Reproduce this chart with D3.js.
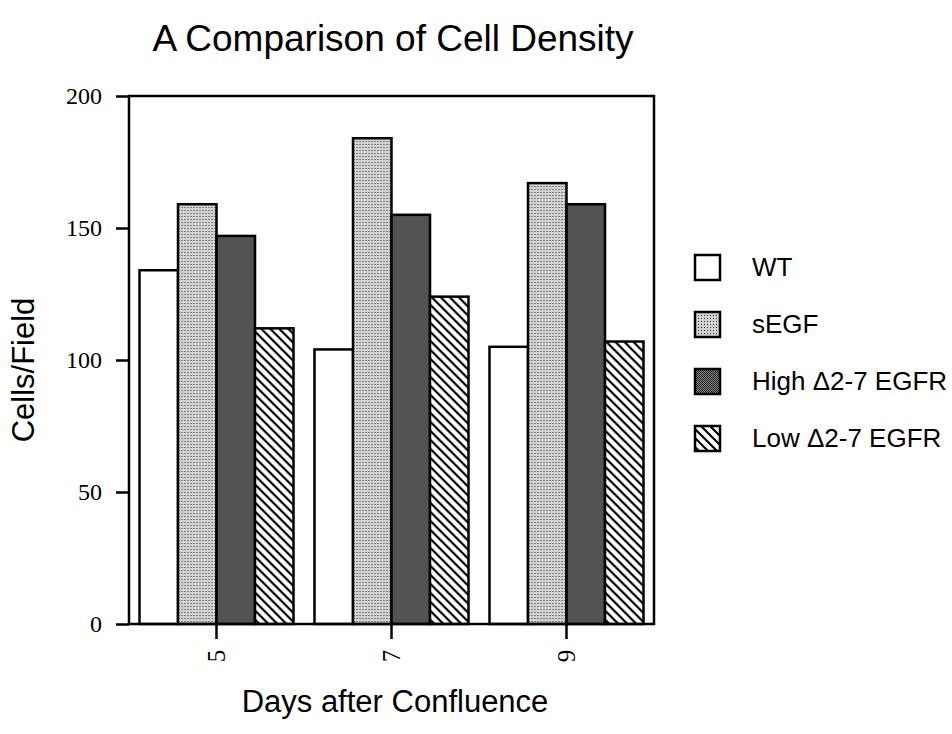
<!DOCTYPE html>
<html>
<head>
<meta charset="utf-8">
<script src="https://cdn.jsdelivr.net/npm/d3@7"></script>
<style>
  body { margin: 0; background: #fff; }
  svg { display: block; }
</style>
</head>
<body>
<div id="chart"></div>
<script>
// Cell density per field, grouped by days after confluence
const days = ["5", "7", "9"];
const seriesNames = ["WT", "sEGF", "High Δ2-7 EGFR", "Low Δ2-7 EGFR"];
const wtValues = [134, 104, 105];
const segfValues = [159, 184, 167];
const highValues = [147, 155, 159];
const lowValues = [112, 124, 107];
const yTicks = [0, 50, 100, 150, 200];

const seriesValues = [wtValues, segfValues, highValues, lowValues];
const fills = ["#ffffff", "url(#lightDots)", "url(#darkDots)", "url(#hatch)"];

const W = 952, H = 734;
const plot = { left: 129, right: 654, top: 96, bottom: 624 };
const sans = "'Liberation Sans', Arial, sans-serif";
const serif = "'Liberation Serif', 'Times New Roman', serif";

const svg = d3.select("#chart")
    .append("svg")
    .attr("width", W)
    .attr("height", H);

// fill patterns
const defs = svg.append("defs");
const light = defs.append("pattern")
    .attr("id", "lightDots")
    .attr("patternUnits", "userSpaceOnUse")
    .attr("width", 3).attr("height", 3);
light.append("rect").attr("width", 3).attr("height", 3).attr("fill", "#d2d2d2");
light.append("rect").attr("width", 1).attr("height", 1).attr("fill", "#333");

const dark = defs.append("pattern")
    .attr("id", "darkDots")
    .attr("patternUnits", "userSpaceOnUse")
    .attr("width", 2).attr("height", 2);
dark.append("rect").attr("width", 2).attr("height", 2).attr("fill", "#8c8c8c");
dark.append("rect").attr("width", 1).attr("height", 1).attr("fill", "#1a1a1a");
dark.append("rect").attr("x", 1).attr("y", 1).attr("width", 1).attr("height", 1).attr("fill", "#1a1a1a");

const hatch = defs.append("pattern")
    .attr("id", "hatch")
    .attr("patternUnits", "userSpaceOnUse")
    .attr("width", 9).attr("height", 9);
hatch.append("rect").attr("width", 9).attr("height", 9).attr("fill", "#fff");
hatch.append("path")
    .attr("d", "M-2,-2 L11,11 M-2,7 L2,11 M7,-2 L11,2")
    .attr("stroke", "#000")
    .attr("stroke-width", 2.2);

const x0 = d3.scaleBand()
    .domain(days)
    .range([plot.left, plot.right])
    .paddingInner(0.12)
    .paddingOuter(0.06);

const x1 = d3.scaleBand()
    .domain(seriesNames)
    .range([0, x0.bandwidth()]);

const y = d3.scaleLinear()
    .domain([0, 200])
    .range([plot.bottom, plot.top]);

// bars
const groups = svg.selectAll("g.bar-group")
    .data(days)
    .enter()
    .append("g")
    .attr("class", "bar-group")
    .attr("transform", d => `translate(${x0(d)},0)`);

groups.selectAll("rect")
    .data((d, i) => seriesNames.map((s, j) => ({ key: s, idx: j, value: seriesValues[j][i] })))
    .enter()
    .append("rect")
    .attr("x", d => x1(d.key))
    .attr("y", d => y(d.value))
    .attr("width", x1.bandwidth())
    .attr("height", d => y(0) - y(d.value))
    .attr("fill", d => fills[d.idx])
    .attr("stroke", "#000")
    .attr("stroke-width", 2.5);

// frame
svg.append("rect")
    .attr("x", plot.left)
    .attr("y", plot.top)
    .attr("width", plot.right - plot.left)
    .attr("height", plot.bottom - plot.top)
    .attr("fill", "none")
    .attr("stroke", "#000")
    .attr("stroke-width", 2.5);

// y axis
const yAxis = svg.append("g")
    .attr("transform", `translate(${plot.left},0)`)
    .call(d3.axisLeft(y).tickValues(yTicks).tickSize(13).tickPadding(14));
yAxis.select(".domain").remove();
yAxis.selectAll(".tick line").attr("stroke-width", 2.5);
yAxis.selectAll(".tick text")
    .style("font-family", serif)
    .style("font-size", "24px")
    .attr("fill", "#000");

// x axis
const xAxis = svg.append("g")
    .attr("transform", `translate(0,${plot.bottom})`)
    .call(d3.axisBottom(x0).tickSize(15).tickPadding(0));
xAxis.select(".domain").remove();
xAxis.selectAll(".tick line").attr("stroke-width", 2.5);
xAxis.selectAll(".tick text")
    .attr("transform", "translate(0,32) rotate(-90)")
    .attr("y", 0)
    .attr("dy", "0.35em")
    .attr("text-anchor", "middle")
    .style("font-family", serif)
    .style("font-size", "25px")
    .attr("fill", "#000");

// title and axis labels
svg.append("text")
    .attr("x", 393)
    .attr("y", 51)
    .attr("text-anchor", "middle")
    .style("font-family", sans)
    .style("font-size", "37px")
    .text("A Comparison of Cell Density");

svg.append("text")
    .attr("transform", "translate(34,370) rotate(-90)")
    .attr("text-anchor", "middle")
    .style("font-family", sans)
    .style("font-size", "31px")
    .text("Cells/Field");

svg.append("text")
    .attr("x", 395)
    .attr("y", 712)
    .attr("text-anchor", "middle")
    .style("font-family", sans)
    .style("font-size", "31px")
    .text("Days after Confluence");

// legend
const legendY = d3.scalePoint()
    .domain(seriesNames)
    .range([267, 438]);

const legend = svg.selectAll("g.legend")
    .data(seriesNames)
    .enter()
    .append("g")
    .attr("class", "legend")
    .attr("transform", d => `translate(695,${legendY(d)})`);

legend.append("rect")
    .attr("x", 0)
    .attr("y", -12)
    .attr("width", 25)
    .attr("height", 25)
    .attr("fill", (d, i) => fills[i])
    .attr("stroke", "#000")
    .attr("stroke-width", 2.5);

legend.append("text")
    .attr("x", 57)
    .attr("y", 0)
    .attr("dy", "0.35em")
    .style("font-family", sans)
    .style("font-size", "26px")
    .text(d => d);
</script>
</body>
</html>
